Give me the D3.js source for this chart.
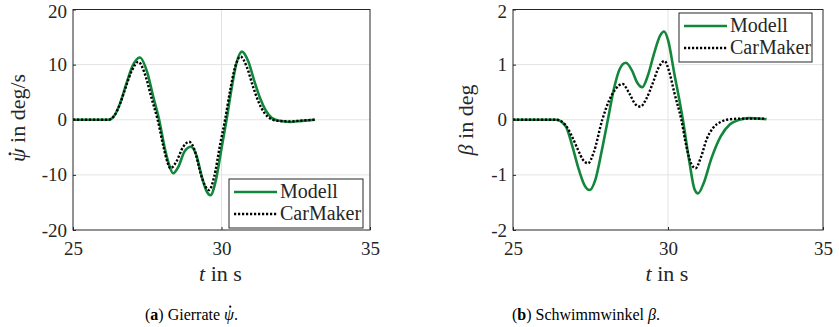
<!DOCTYPE html>
<html><head><meta charset="utf-8">
<script src="https://cdn.jsdelivr.net/npm/d3@7"></script>
<style>body{margin:0;background:#fff}svg{display:block}</style>
</head><body><svg id="c" width="839" height="327"></svg>
<script>
// ---- data ----
const xTicks = [25, 30, 35];
const yawTicks = [-20, -10, 0, 10, 20];
const betaTicks = [-2, -1, 0, 1, 2];
const seriesNames = ["Modell", "CarMaker"];

const yawModellT = [25, 26.0, 26.2, 26.4, 26.6, 26.8, 27.0, 27.25, 27.5, 27.7, 27.9, 28.1, 28.25, 28.37, 28.55, 28.75, 28.97, 29.15, 29.35, 29.5, 29.63, 29.8, 30.0, 30.17, 30.35, 30.5, 30.69, 30.9, 31.1, 31.3, 31.5, 31.7, 31.95, 32.3, 32.7, 33.15];
const yawModellV = [0, 0, 0, 0.8, 3.2, 6.6, 9.7, 11.3, 8.6, 4.2, 0, -5.4, -8.4, -9.7, -8.5, -5.8, -4.9, -6.4, -10.6, -13.0, -13.7, -11.2, -5.2, 0, 6.0, 10.2, 12.35, 10.6, 7.1, 3.9, 1.6, 0.3, -0.2, -0.4, -0.2, 0];
const yawCarMakerT = [25, 26.0, 26.2, 26.4, 26.6, 26.8, 27.0, 27.2, 27.45, 27.65, 27.85, 28.05, 28.18, 28.28, 28.48, 28.7, 28.91, 29.1, 29.3, 29.45, 29.58, 29.75, 29.95, 30.12, 30.3, 30.45, 30.64, 30.85, 31.05, 31.25, 31.45, 31.65, 31.9, 32.3, 32.7, 33.15];
const yawCarMakerV = [0, 0, 0, 0.8, 3.1, 6.3, 9.1, 10.5, 7.8, 3.8, 0, -5.0, -7.7, -8.8, -7.6, -5.0, -4.0, -5.6, -9.8, -12.0, -12.75, -10.4, -4.6, 0, 5.6, 9.4, 11.45, 9.6, 6.2, 3.2, 1.2, 0.2, -0.2, -0.3, -0.15, 0];

const betaModellT = [25, 26.2, 26.4, 26.7, 26.9, 27.1, 27.3, 27.47, 27.65, 27.85, 28.06, 28.25, 28.45, 28.64, 28.85, 29.0, 29.17, 29.35, 29.55, 29.75, 29.87, 30.0, 30.2, 30.48, 30.7, 30.85, 30.97, 31.15, 31.4, 31.7, 32.0, 32.3, 32.6, 33.17];
const betaModellV = [0, 0, 0, -0.12, -0.45, -0.86, -1.18, -1.275, -1.1, -0.6, 0, 0.55, 0.93, 1.035, 0.88, 0.68, 0.59, 0.8, 1.2, 1.53, 1.6, 1.45, 0.85, 0, -0.8, -1.25, -1.335, -1.15, -0.7, -0.3, -0.08, 0, 0.03, 0.01];
const betaCarMakerT = [25, 26.2, 26.4, 26.7, 26.9, 27.1, 27.25, 27.42, 27.6, 27.88, 28.1, 28.3, 28.53, 28.75, 28.95, 29.11, 29.3, 29.5, 29.7, 29.89, 30.05, 30.2, 30.43, 30.6, 30.75, 30.89, 31.05, 31.25, 31.45, 31.7, 31.9, 32.3, 32.7, 33.17];
const betaCarMakerV = [0, 0, 0, -0.1, -0.3, -0.55, -0.72, -0.79, -0.6, 0, 0.35, 0.55, 0.65, 0.48, 0.28, 0.237, 0.38, 0.65, 0.95, 1.066, 0.85, 0.5, 0, -0.5, -0.8, -0.88, -0.7, -0.35, -0.15, -0.04, 0, 0.02, 0.02, 0.02];

const GREEN = "#12873c";
const FONT = "'Liberation Serif', 'DejaVu Serif', serif";
const svg = d3.select("#c").style("font-family", FONT);

function txt(sel) { return sel.style("font-family", FONT).attr("fill", "#262626"); }

// dot accent over a character of a text element (drawn in the text's own coordinate space)
function addDot(parent, textSel, charIndex, r, fy) {
  const e = textSel.node().getExtentOfChar(charIndex);
  parent.append("circle").attr("cx", e.x + e.width * 0.62).attr("cy", e.y + e.height * fy).attr("r", r)
    .attr("fill", textSel.attr("fill"));
}

function panel(cfg) {
  const x = d3.scaleLinear().domain([25, 35]).range([cfg.x0, cfg.x1]);
  const y = d3.scaleLinear().domain(cfg.yDom).range([230, 9.5]);
  const g = svg.append("g");
  // grid
  g.append("g").selectAll("line").data(xTicks.slice(1, -1)).join("line")
    .attr("x1", d => x(d)).attr("x2", d => x(d)).attr("y1", y.range()[0]).attr("y2", y.range()[1])
    .attr("stroke", "#e3e3e3").attr("stroke-width", 1);
  g.append("g").selectAll("line").data(cfg.yTicks.slice(1, -1)).join("line")
    .attr("y1", d => y(d)).attr("y2", d => y(d)).attr("x1", x.range()[0]).attr("x2", x.range()[1])
    .attr("stroke", "#e3e3e3").attr("stroke-width", 1);
  // lines
  const mk = (T, V) => T.map((t, i) => [t, V[i]]);
  const line = d3.line().x(d => x(d[0])).y(d => y(d[1])).curve(d3.curveMonotoneX);
  g.append("path").attr("d", line(mk(cfg.mT, cfg.mV))).attr("fill", "none")
    .attr("stroke", GREEN).attr("stroke-width", 2.6);
  g.append("path").attr("d", line(mk(cfg.cT, cfg.cV))).attr("fill", "none")
    .attr("stroke", "#000").attr("stroke-width", 2.4).attr("stroke-dasharray", "2.2,1.8");
  // axes
  const ax = g.append("g").attr("transform", `translate(0,230)`)
    .call(d3.axisBottom(x).tickValues(xTicks).tickSize(-3).tickPadding(9).tickFormat(d3.format("d")));
  const ay = g.append("g").attr("transform", `translate(${cfg.x0},0)`)
    .call(d3.axisLeft(y).tickValues(cfg.yTicks).tickSize(-3).tickPadding(6).tickFormat(d3.format("d")));
  [ax, ay].forEach(a => {
    a.attr("font-family", null);
    a.select(".domain").remove();
    a.selectAll("line").attr("stroke", "#262626");
    txt(a.selectAll("text")).style("font-size", "19px");
  });
  ay.selectAll("text").text(d => d < 0 ? "-" + Math.abs(d) : d);
  ay.selectAll("text").filter(d => d === cfg.yDom[1]).attr("dy", "0.42em");
  ax.selectAll("text").attr("dy", "0.85em");
  // box
  g.append("rect").attr("x", cfg.x0).attr("y", 9.5).attr("width", cfg.x1 - cfg.x0).attr("height", 220.5)
    .attr("fill", "none").attr("stroke", "#262626").attr("stroke-width", 1);
  // x label
  const xl = txt(g.append("text")).attr("x", (cfg.x0 + cfg.x1) / 2 - 1).attr("y", 281).attr("text-anchor", "middle").style("font-size", "22px");
  xl.append("tspan").attr("font-style", "italic").text("t");
  xl.append("tspan").text(" in s");
  // y label
  const yg = g.append("g").attr("transform", `translate(${cfg.ylx},${cfg.yly}) rotate(-90)`);
  const yl = txt(yg.append("text")).attr("text-anchor", "middle").style("font-size", "22px");
  yl.append("tspan").attr("font-style", "italic").text(cfg.ySym);
  yl.append("tspan").text(cfg.yUnit);
  if (cfg.dot) addDot(yg, yl, 0, 1.5, 0.2);
  // legend
  const L = cfg.leg;
  const lg = g.append("g");
  lg.append("rect").attr("x", L.x).attr("y", L.y).attr("width", L.w).attr("height", L.h)
    .attr("fill", "#fff").attr("stroke", "#262626").attr("stroke-width", 1);
  seriesNames.forEach((n, i) => {
    const yy = L.y + 13 + i * 22;
    lg.append("line").attr("x1", L.x + 5).attr("x2", L.x + 48).attr("y1", yy).attr("y2", yy)
      .attr("stroke", i === 0 ? GREEN : "#000").attr("stroke-width", i === 0 ? 2.6 : 2.4)
      .attr("stroke-dasharray", i === 0 ? null : "2.2,1.8");
    txt(lg.append("text")).attr("x", L.x + 51).attr("y", yy + 6).style("font-size", "20px").text(n);
  });
  // caption
  const cg = svg.append("g");
  const cp = txt(cg.append("text")).attr("x", cfg.capX).attr("y", 320).style("font-size", "16px").attr("fill", "#000");
  cp.append("tspan").text("(");
  cp.append("tspan").attr("font-weight", "bold").text(cfg.capL);
  cp.append("tspan").text(") " + cfg.capT + " ");
  cp.append("tspan").attr("font-style", "italic").text(cfg.capSym);
  cp.append("tspan").text(".");
  if (cfg.dot) {
    const idx = ("(" + cfg.capL + ") " + cfg.capT + " ").length;
    addDot(cg, cp, idx, 1.1, 0.04);
  }
}

panel({x0: 73, x1: 370, yDom: [-20, 20], yTicks: yawTicks, mT: yawModellT, mV: yawModellV, cT: yawCarMakerT, cV: yawCarMakerV,
  ylx: 25, yly: 118, ySym: "\u03C8", dot: true, yUnit: " in deg/s",
  leg: {x: 229, y: 179, w: 134, h: 49}, capX: 145, capL: "a", capT: "Gierrate", capSym: "\u03C8"});
panel({x0: 513, x1: 823, yDom: [-2, 2], yTicks: betaTicks, mT: betaModellT, mV: betaModellV, cT: betaCarMakerT, cV: betaCarMakerV,
  ylx: 473, yly: 120, ySym: "\u03B2", dot: false, yUnit: " in deg",
  leg: {x: 679, y: 13, w: 133, h: 49}, capX: 512, capL: "b", capT: "Schwimmwinkel", capSym: "\u03B2"});
</script></body></html>
